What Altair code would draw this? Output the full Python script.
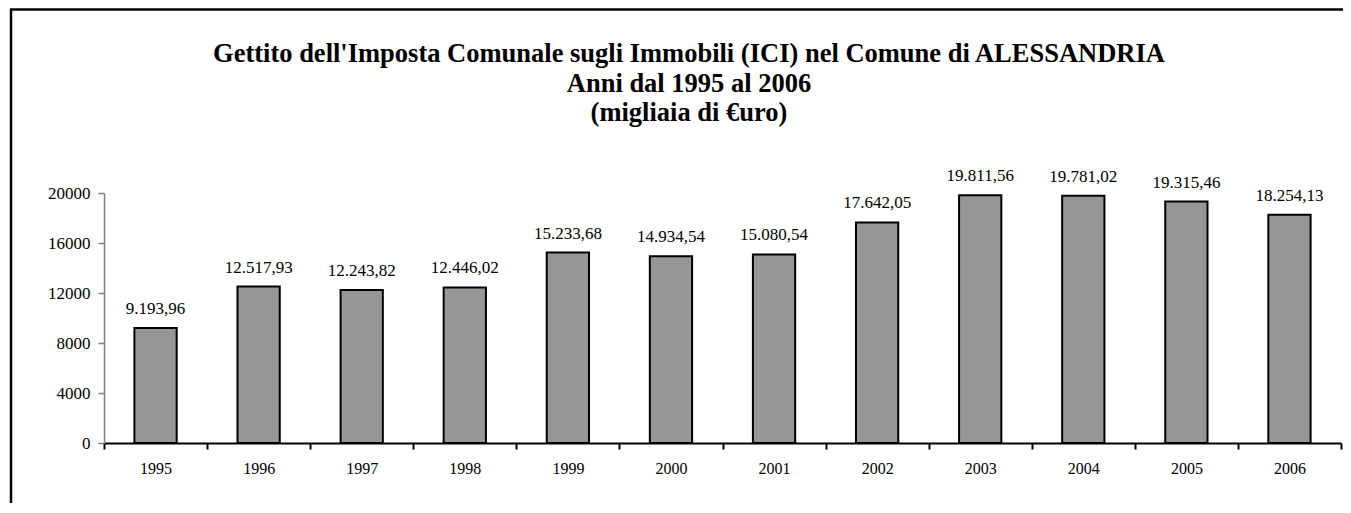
import altair as alt
import pandas as pd

years = ["1995", "1996", "1997", "1998", "1999", "2000", "2001", "2002", "2003", "2004", "2005", "2006"]
values = [9193.96, 12517.93, 12243.82, 12446.02, 15233.68, 14934.54, 15080.54,
          17642.05, 19811.56, 19781.02, 19315.46, 18254.13]
y_ticks = [0, 4000, 8000, 12000, 16000, 20000]
title_lines = ["Gettito dell'Imposta Comunale sugli Immobili (ICI) nel Comune di ALESSANDRIA",
               "Anni dal 1995 al 2006",
               "(migliaia di €uro)"]


def it_fmt(v):
    s = f"{v:,.2f}"
    return s.replace(",", "X").replace(".", ",").replace("X", ".")


df = pd.DataFrame({"year": years, "value": values, "label": [it_fmt(v) for v in values]})

W, H = 1237, 250
PL, PT, PR, PB = 96, 185, 2, 60
FONT = "Liberation Serif"

x = alt.X("year:N", sort=years,
          scale=alt.Scale(paddingInner=0, paddingOuter=0),
          axis=alt.Axis(title=None, labelAngle=0, tickBand="extent",
                        tickSize=6, tickColor="black", tickWidth=2,
                        domainColor="black", domainWidth=2,
                        labelPadding=11, labelFontSize=16, labelFont=FONT,
                        labelColor="black", grid=False))
y = alt.Y("value:Q", scale=alt.Scale(domain=[0, 20000], nice=False),
          axis=alt.Axis(title=None, values=y_ticks, format="d",
                        tickSize=6, tickColor="#808080", tickWidth=1.5,
                        domainColor="#808080", domainWidth=1.5,
                        labelPadding=8, labelFontSize=17, labelFont=FONT,
                        labelColor="black", grid=False))

base = alt.Chart(df)
bars = base.mark_bar(width=alt.RelativeBandSize(0.41), color="#969696",
                     stroke="black", strokeWidth=2).encode(x=x, y=y)
labels = base.mark_text(baseline="alphabetic", dy=-14, font=FONT, fontSize=17,
                        color="black").encode(x=x, y=y, text="label:N")

one = pd.DataFrame({"a": [0]})
frame_left = alt.Chart(one).mark_rule(color="black", strokeWidth=2.5).encode(
    x=alt.value(-93), y=alt.value(-184), y2=alt.value(H + PB + 10))
frame_top = alt.Chart(one).mark_rule(color="black", strokeWidth=2.5).encode(
    x=alt.value(-94), x2=alt.value(W + 40), y=alt.value(-183.5))

title_y = [-131, -101, -72]
title_layers = [
    alt.Chart(one).mark_text(text=t, font=FONT, fontSize=26.5, fontWeight="bold",
                             color="black", align="center", baseline="alphabetic")
    .encode(x=alt.value(585), y=alt.value(ty))
    for t, ty in zip(title_lines, title_y)
]

chart = alt.layer(frame_left, frame_top, bars, labels, *title_layers).properties(
    width=W, height=H,
    padding={"left": PL, "top": PT, "right": PR, "bottom": PB},
    autosize=alt.AutoSizeParams(type="none"),
).configure_view(stroke=None)

chart.save("out.html", embed_options={"renderer": "svg", "actions": False})
